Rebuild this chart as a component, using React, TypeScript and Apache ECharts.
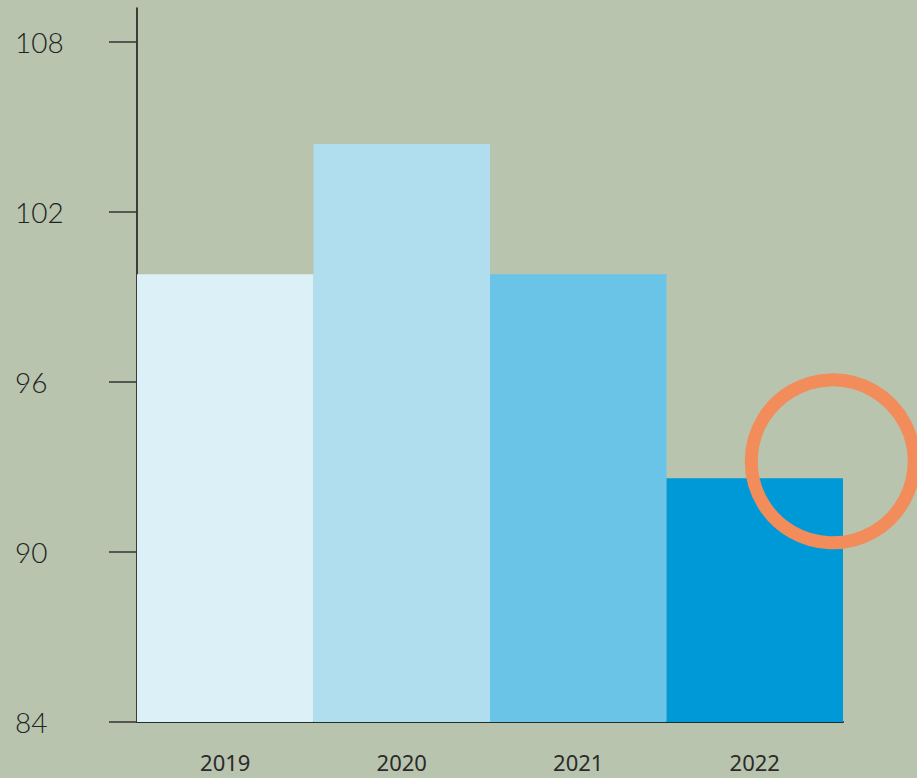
import React, { useEffect, useRef } from "react";
import * as echarts from "echarts";

const categories = ["2019", "2020", "2021", "2022"];
const values = [99.8, 104.4, 99.8, 92.6];
const barColors = ["#DCF0F7", "#B0DEEE", "#6AC4E7", "#0099D8"];
const yTicks = [84, 90, 96, 102, 108];
const highlightValue = 93.2;

export default function App() {
  const ref = useRef<HTMLDivElement>(null);
  useEffect(() => {
    if (!ref.current) return;
    const chart = echarts.init(ref.current, null, { renderer: "svg" });
    chart.setOption({
      animation: false,
      backgroundColor: "#B8C4AE",
      grid: { left: 137, right: 74, top: 8, bottom: 56 },
      xAxis: {
        type: "category",
        data: categories,
        axisLine: { lineStyle: { color: "#1f2f2f", width: 2 } },
        axisTick: { show: false },
        axisLabel: {
          margin: 29,
          fontFamily: "Noto Sans",
          fontWeight: 400,
          fontSize: 22,
          color: "#2a2a2a",
        },
      },
      yAxis: {
        type: "value",
        min: 84,
        max: 109.2,
        splitLine: { show: false },
        axisLine: { show: true, lineStyle: { color: "#111", width: 1.5 } },
        axisTick: {
          show: true,
          length: 28,
          customValues: yTicks,
          lineStyle: { color: "#333", width: 1.5 },
        },
        axisLabel: {
          customValues: yTicks,
          align: "left",
          margin: 122,
          fontFamily: "Lato",
          fontWeight: 300,
          fontSize: 28,
          color: "#222",
          padding: [0, 0, 4, 0],
        },
      },
      series: [
        {
          type: "bar",
          barCategoryGap: "0%",
          barWidth: "100%",
          data: values.map((v, i) => ({ value: v, itemStyle: { color: barColors[i] } })),
        },
        {
          type: "scatter",
          data: [[categories[3], highlightValue]],
          symbol: "circle",
          symbolSize: 163,
          symbolOffset: [78, 0],
          itemStyle: {
            color: "rgba(0,0,0,0)",
            borderColor: "#F28C5A",
            borderWidth: 13,
            opacity: 1,
          },
          z: 5,
          silent: true,
        },
      ],
    });
    return () => chart.dispose();
  }, []);
  return (
    <div
      ref={ref}
      style={{ position: "fixed", left: 0, top: 0, width: 917, height: 778 }}
    />
  );
}
